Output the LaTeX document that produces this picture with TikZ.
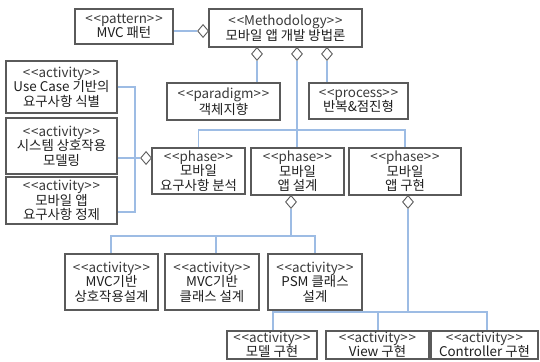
\documentclass[tikz,border=0pt]{standalone}
\usepackage{fontspec}
\newfontfamily\kr{Noto Sans CJK KR}
\usetikzlibrary{shapes.geometric}
\definecolor{frame}{HTML}{5A5A5A}
\definecolor{link}{HTML}{9DBCE4}
\definecolor{stereo}{HTML}{3A3A3A}
% stereotype label << name >>
\newcommand{\st}[1]{{\color{stereo}<\kern.9pt<#1>\kern.9pt>}}

\begin{document}
\begin{tikzpicture}[x=1pt,y=-1pt,
  umlbox/.style={draw=frame, line width=1.3pt, fill=white, inner sep=0pt,
    align=center, text=black!88, font=\kr\fontsize{13.4}{14.4}\selectfont},
  agg/.style={diamond, draw=frame, line width=0.9pt, fill=white,
    minimum width=11pt, minimum height=13pt, inner sep=0pt},
  wire/.style={draw=link, line width=1.3pt}]
\useasboundingbox (0,0) rectangle (540,361);

% top level
\node[umlbox, minimum width=98pt, minimum height=35pt] (pat) at (124,26.5)
  {\st{pattern}\\MVC 패턴};
\node[umlbox, minimum width=153pt, minimum height=38pt,
  font=\kr\fontsize{13.4}{13.6}\selectfont] (meth) at (285.5,28)
  {\st{Methodology}\\모바일 앱 개발 방법론};
\node[umlbox, minimum width=113pt, minimum height=37pt] (para) at (223.5,101.5)
  {\st{paradigm}\\객체지향};
\node[umlbox, minimum width=99pt, minimum height=36pt] (proc) at (358.5,101)
  {\st{process}\\반복\&점진형};

% requirement activities
\node[umlbox, minimum width=111pt, minimum height=52pt] (act1) at (61.5,87)
  {\st{activity}\\Use Case 기반의\\요구사항 식별};
\node[umlbox, minimum width=111pt, minimum height=56pt] (act2) at (61.5,146)
  {\st{activity}\\시스템 상호작용\\모델링};
\node[umlbox, minimum width=111pt, minimum height=47pt] (act3) at (61.5,200.5)
  {\st{activity}\\모바일 앱\\요구사항 정제};

% phases
\node[umlbox, minimum width=93pt, minimum height=46pt] (ph1) at (198.5,171)
  {\st{phase}\\모바일\\요구사항 분석};
\node[umlbox, minimum width=93pt, minimum height=47pt] (ph2) at (297.5,171.5)
  {\st{phase}\\모바일\\앱 설계};
\node[umlbox, minimum width=112pt, minimum height=47pt] (ph3) at (405,171.5)
  {\st{phase}\\모바일\\앱 구현};

% design activities
\node[umlbox, minimum width=93pt, minimum height=56pt] (a1) at (111.5,282)
  {\st{activity}\\MVC기반\\상호작용설계};
\node[umlbox, minimum width=94pt, minimum height=56pt] (a2) at (212,282)
  {\st{activity}\\MVC기반\\클래스 설계};
\node[umlbox, minimum width=94pt, minimum height=56pt] (a3) at (315,282)
  {\st{activity}\\PSM 클래스\\설계};

% implementation activities
\node[umlbox, minimum width=90pt, minimum height=28pt] (b1) at (272,345)
  {\st{activity}\\모델 구현};
\node[umlbox, minimum width=103pt, minimum height=28pt] (b2) at (377.5,345)
  {\st{activity}\\View 구현};
\node[umlbox, minimum width=107pt, minimum height=28pt] (b3) at (484.5,345)
  {\st{activity}\\Controller 구현};

% aggregation diamonds
\node[agg, anchor=east] (dpat) at (209,31) {};
\node[agg, anchor=north] (dm1) at (257,47) {};
\node[agg, anchor=north] (dm2) at (297,47) {};
\node[agg, anchor=north] (dm3) at (327,47) {};
\node[agg, anchor=east] (dph1) at (152,158) {};
\node[agg, anchor=north] (dph2) at (291,195) {};
\node[agg, anchor=north] (dph3) at (408,195) {};

% junction points
\coordinate (bus) at (135,0);
\coordinate (jm) at (297,130);
\coordinate (j2) at (291,236);
\coordinate (j3) at (408,312);
\coordinate (a3p) at ([yshift=-11.5pt]act3.east);

% methodology links
\draw[wire] (dpat.west) -- (pat.east |- dpat.west);
\draw[wire] (dm1.south) -- (dm1.south |- para.north);
\draw[wire] (dm3.south) -- (dm3.south |- proc.north);
\draw[wire] (dm2.south) -- (jm);
\draw[wire] (ph1.north) |- (jm) -| (ph3.north);
\draw[wire] (jm) -- (jm |- ph2.north);

% requirement analysis links
\draw[wire] (act1.east) -| (a3p -| bus) -- (a3p);
\draw[wire] (dph1.west) -- (dph1.west -| act2.east);

% design links
\draw[wire] (dph2.south) -- (j2);
\draw[wire] ([xshift=-0.5pt]a1.north) |- (j2) -| (a3.north);
\draw[wire] ([xshift=4pt]a2.north) -- ([xshift=4pt]a2.north |- j2);

% implementation links
\draw[wire] (dph3.south) -- (j3);
\draw[wire] ([xshift=1pt]b1.north) |- (j3) -| ([xshift=2.5pt]b3.north);
\draw[wire] ([xshift=0.5pt]b2.north) -- ([xshift=0.5pt]b2.north |- j3);
\end{tikzpicture}
\end{document}
